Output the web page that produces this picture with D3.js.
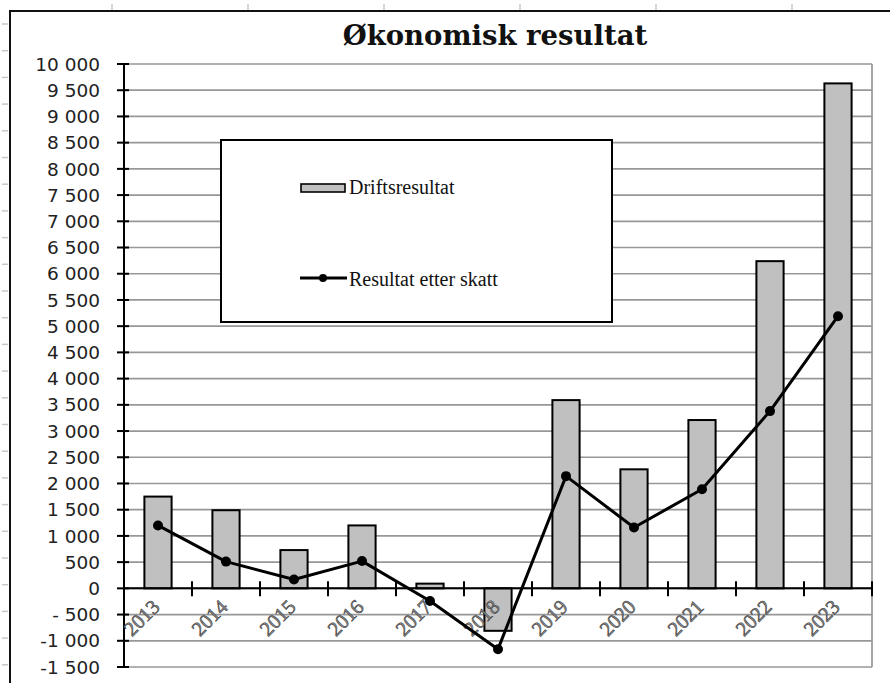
<!DOCTYPE html>
<html>
<head>
<meta charset="utf-8">
<script src="https://cdn.jsdelivr.net/npm/d3@7/dist/d3.min.js"></script>
<style>
  html, body { margin: 0; padding: 0; background: #fff; }
  svg { display: block; }
</style>
</head>
<body>
<div id="chart"></div>
<script>
// data
const years = ['2013', '2014', '2015', '2016', '2017', '2018', '2019', '2020', '2021', '2022', '2023'];
const driftsresultat = [1750, 1490, 730, 1200, 90, -810, 3590, 2270, 3210, 6240, 9630];
const resultatEtterSkatt = [1200, 510, 170, 520, -240, -1160, 2140, 1160, 1890, 3380, 5190];
const yTicks = [-1500, -1000, -500, 0, 500, 1000, 1500, 2000, 2500, 3000, 3500, 4000, 4500, 5000,
  5500, 6000, 6500, 7000, 7500, 8000, 8500, 9000, 9500, 10000];
const yTickLabels = ['-1 500', '-1 000', '- 500', '0', '500', '1 000', '1 500', '2 000', '2 500', '3 000',
  '3 500', '4 000', '4 500', '5 000', '5 500', '6 000', '6 500', '7 000', '7 500', '8 000', '8 500',
  '9 000', '9 500', '10 000'];
const legendLabels = ['Driftsresultat', 'Resultat etter skatt'];

const W = 890, H = 683;
const plot = { left: 124, right: 872, top: 64, bottom: 667 };

const svg = d3.select('#chart').append('svg').attr('width', W).attr('height', H);

// page ruler marks of the sheet behind the chart
svg.append('g').selectAll('line').data(d3.range(112, W, 136)).join('line')
  .attr('x1', d => d).attr('x2', d => d).attr('y1', 4).attr('y2', 10)
  .attr('stroke', '#c8c8c8').attr('stroke-width', 1.5);
svg.append('g').selectAll('line').data(d3.range(24, H, 26.7)).join('line')
  .attr('x1', 2).attr('x2', 8).attr('y1', d => d).attr('y2', d => d)
  .attr('stroke', '#c8c8c8').attr('stroke-width', 1.5);

// chart frame (only top and left edges show)
svg.append('path').attr('d', `M10,${H} V11 H${W}`)
  .attr('fill', 'none').attr('stroke', '#111').attr('stroke-width', 2);

const x = d3.scaleBand().domain(years).range([plot.left, plot.right]).padding(0);
const y = d3.scaleLinear().domain([-1500, 10000]).range([plot.bottom, plot.top]);
const barW = x.bandwidth() * 0.4;

// gridlines
svg.append('g').selectAll('line').data(yTicks).join('line')
  .attr('x1', plot.left).attr('x2', plot.right)
  .attr('y1', d => y(d)).attr('y2', d => y(d))
  .attr('stroke', '#979797').attr('stroke-width', 1.7);
svg.append('line')
  .attr('x1', plot.right).attr('x2', plot.right).attr('y1', plot.top).attr('y2', plot.bottom)
  .attr('stroke', '#979797').attr('stroke-width', 1.7);

// legend box (sits over the gridlines)
const lg = svg.append('g');
lg.append('rect').attr('x', 221).attr('y', 140).attr('width', 391).attr('height', 182)
  .attr('fill', '#fff').attr('stroke', '#000').attr('stroke-width', 2);
lg.append('rect').attr('x', 301).attr('y', 184).attr('width', 44).attr('height', 8)
  .attr('fill', '#c0c0c0').attr('stroke', '#000').attr('stroke-width', 1.6);
lg.append('line').attr('x1', 300).attr('x2', 347).attr('y1', 278).attr('y2', 278)
  .attr('stroke', '#000').attr('stroke-width', 3);
lg.append('circle').attr('cx', 323).attr('cy', 278).attr('r', 4).attr('fill', '#000');
lg.selectAll('text').data(legendLabels).join('text')
  .attr('x', 349).attr('y', (d, i) => i === 0 ? 194 : 286)
  .attr('font-family', '"Liberation Serif", "Times New Roman", serif')
  .attr('font-size', 20).attr('fill', '#111')
  .text(d => d);

// bars
svg.append('g').selectAll('rect').data(driftsresultat).join('rect')
  .attr('x', (d, i) => x(years[i]) + (x.bandwidth() - barW) / 2)
  .attr('width', barW)
  .attr('y', d => Math.min(y(d), y(0)))
  .attr('height', d => Math.abs(y(d) - y(0)))
  .attr('fill', '#c0c0c0').attr('stroke', '#000').attr('stroke-width', 2);

// zero axis with crossing ticks
svg.append('line').attr('x1', plot.left).attr('x2', plot.right).attr('y1', y(0)).attr('y2', y(0))
  .attr('stroke', '#000').attr('stroke-width', 2);
svg.append('g').selectAll('line').data(years.slice(1).map(yr => x(yr)).concat([plot.right])).join('line')
  .attr('x1', d => d).attr('x2', d => d).attr('y1', y(0) - 7).attr('y2', y(0) + 8)
  .attr('stroke', '#000').attr('stroke-width', 2);

// value axis
svg.append('line').attr('x1', plot.left).attr('x2', plot.left).attr('y1', plot.top).attr('y2', plot.bottom)
  .attr('stroke', '#000').attr('stroke-width', 2);
svg.append('g').selectAll('line').data(yTicks).join('line')
  .attr('x1', plot.left - 7).attr('x2', plot.left + 5)
  .attr('y1', d => y(d)).attr('y2', d => y(d))
  .attr('stroke', '#000').attr('stroke-width', 2);
svg.append('g').selectAll('text').data(yTicks).join('text')
  .attr('x', 100).attr('y', d => y(d)).attr('dy', '0.36em')
  .attr('text-anchor', 'end')
  .attr('font-family', '"DejaVu Sans", Verdana, sans-serif')
  .attr('font-size', 18.5).attr('fill', '#222')
  .text((d, i) => yTickLabels[i]);

// category labels, slanted
svg.append('g').selectAll('text').data(years).join('text')
  .attr('transform', d => `translate(${x(d) + x.bandwidth() / 2 + 3},${y(0) + 20}) rotate(-45)`)
  .attr('text-anchor', 'end')
  .attr('font-family', '"Liberation Serif", "Times New Roman", serif')
  .attr('font-size', 20.5).attr('fill', '#8a8a8a')
  .attr('stroke', '#333').attr('stroke-width', 0.5)
  .text(d => d);

// line series
const line = d3.line()
  .x((d, i) => x(years[i]) + x.bandwidth() / 2)
  .y(d => y(d));
svg.append('path').datum(resultatEtterSkatt)
  .attr('d', line).attr('fill', 'none')
  .attr('stroke', '#000').attr('stroke-width', 3).attr('stroke-linejoin', 'round');
svg.append('g').selectAll('circle').data(resultatEtterSkatt).join('circle')
  .attr('cx', (d, i) => x(years[i]) + x.bandwidth() / 2)
  .attr('cy', d => y(d)).attr('r', 5).attr('fill', '#000');

// title
svg.append('text')
  .attr('x', 495).attr('y', 45).attr('text-anchor', 'middle')
  .attr('font-family', '"DejaVu Serif", "Liberation Serif", serif')
  .attr('font-weight', 'bold').attr('font-size', 27.5).attr('fill', '#111')
  .text('Økonomisk resultat');
</script>
</body>
</html>
